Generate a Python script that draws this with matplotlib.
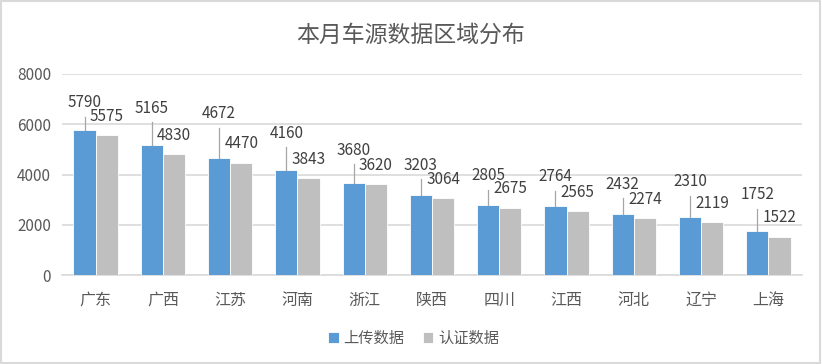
import matplotlib
matplotlib.use("Agg")
import matplotlib.pyplot as plt
from matplotlib.patches import Rectangle
import numpy as np

plt.rcParams['font.family'] = ['Noto Sans CJK SC', 'DejaVu Sans']

title = "本月车源数据区域分布"
categories = ["广东", "广西", "江苏", "河南", "浙江", "陕西", "四川", "江西", "河北", "辽宁", "上海"]
series_names = ["上传数据", "认证数据"]
upload = [5790, 5165, 4672, 4160, 3680, 3203, 2805, 2764, 2432, 2310, 1752]
certified = [5575, 4830, 4470, 3843, 3620, 3064, 2675, 2565, 2274, 2119, 1522]
yticks = [0, 2000, 4000, 6000, 8000]

# label placement (layout, data units of label centre)
upload_label_y = [6860, 6630, 6410, 5640, 4975, 4365, 3955, 3915, 3610, 3715, 3185]
certified_label_y = [6300, 5570, 5240, 4605, 4350, 3810, 3425, 3290, 3010, 2850, 2280]

blue = "#5B9BD5"
gray = "#BFBFBF"
text_col = "#595959"
label_col = "#404040"

fig = plt.figure(figsize=(8.22, 3.64), dpi=100)
ax = fig.add_axes([62/822, 1-275/364, 740/822, 201/364])

x = np.arange(len(categories))
w = 0.33
ax.bar(x - w/2, upload, width=w, color=blue, edgecolor="white", linewidth=0.6, label=series_names[0], zorder=3)
ax.bar(x + w/2, certified, width=w, color=gray, edgecolor="white", linewidth=0.6, label=series_names[1], zorder=3)

ax.set_xlim(-0.5, len(categories) - 0.5)
ax.set_ylim(0, 8000)
ax.set_yticks(yticks)
ax.set_yticklabels([str(v) for v in yticks])
ax.set_xticks(x)
ax.set_xticklabels(categories)
ax.tick_params(axis='both', length=0, colors=text_col, labelsize=11)
ax.tick_params(axis='x', pad=12, labelsize=11.5)
ax.tick_params(axis='y', pad=8)
for s in ["top", "right", "left"]:
    ax.spines[s].set_visible(False)
ax.spines["bottom"].set_color("#D9D9D9")
ax.spines["bottom"].set_linewidth(1.2)
ax.yaxis.grid(True, color="#D9D9D9", linewidth=1.2, zorder=0)
ax.set_axisbelow(True)

for i in range(len(categories)):
    ly = upload_label_y[i]
    ax.text(x[i] - w/2, ly, str(upload[i]), ha="center", va="center", fontsize=11, color=label_col, zorder=5)
    top = ly - 560
    if top > upload[i] + 100:
        ax.plot([x[i] - w/2, x[i] - w/2], [upload[i], top], color="#A6A6A6", linewidth=0.9, zorder=4)
    ax.text(x[i] + w/2, certified_label_y[i], str(certified[i]), ha="center", va="center", fontsize=11, color=label_col, zorder=5)

fig.text(0.5, 1-35/364, title, ha="center", va="center", fontsize=16.5, color=text_col)

fig.legend(loc="center", bbox_to_anchor=(0.503, 1-338/364), ncol=2, frameon=False,
           handlelength=0.7, handleheight=0.7, handletextpad=0.3, columnspacing=1.2,
           fontsize=11, labelcolor=text_col)

fig.patches.append(Rectangle((0.001, 0.002), 0.997, 0.995, transform=fig.transFigure,
                             fill=False, edgecolor="#D9D9D9", linewidth=1.5))

fig.savefig("out.png", dpi=100)
